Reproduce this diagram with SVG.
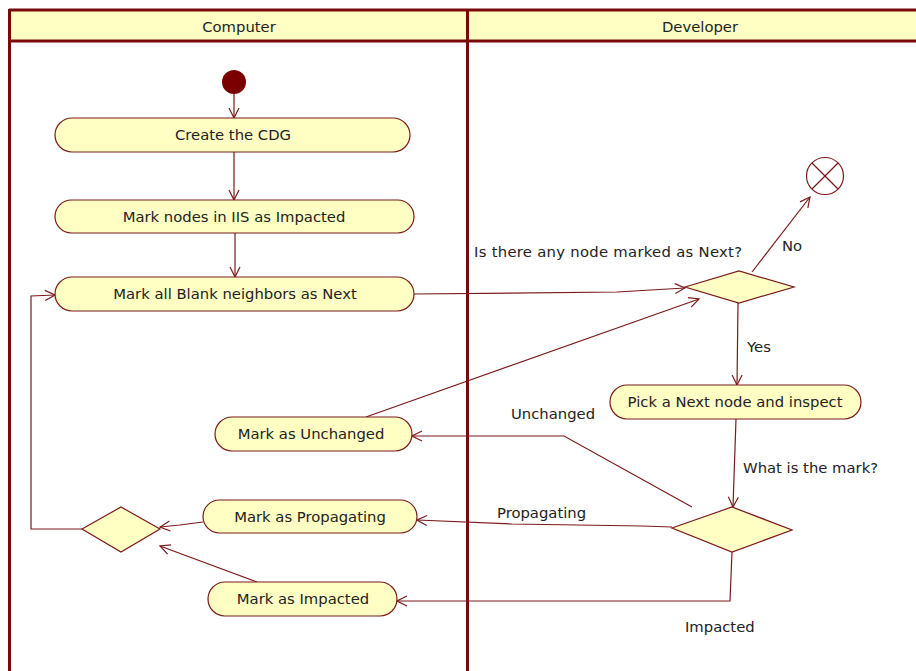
<svg xmlns="http://www.w3.org/2000/svg" width="916" height="671" viewBox="0 0 916 671">
  <style>
    .lane { fill: none; stroke: #7a0a0a; stroke-width: 3; }
    .hdr { fill: #ffffc4; stroke: none; }
    .act { fill: #ffffc4; stroke: #7a1a1a; stroke-width: 1.2; }
    .dec { fill: #ffffc4; stroke: #7a1a1a; stroke-width: 1.2; }
    .flow { fill: none; stroke: #7a1a1a; stroke-width: 1.2; }
    .t { font-family: "DejaVu Sans", Verdana, sans-serif; font-size: 14.8px; fill: #222; }
    .c { text-anchor: middle; }
  </style>
  <defs>
    <marker id="open" viewBox="0 0 12 12" refX="11" refY="6" markerWidth="12" markerHeight="12" markerUnits="userSpaceOnUse" orient="auto">
      <path d="M1,1 L11,6 L1,11" fill="none" stroke="#7a1a1a" stroke-width="1.2"/>
    </marker>
  </defs>

  <rect width="916" height="671" fill="#ffffff"/>

  <!-- swimlanes -->
  <g id="lanes">
    <rect class="hdr" x="10" y="10" width="906" height="31"/>
    <line class="lane" x1="9" y1="10" x2="916" y2="10"/>
    <line class="lane" x1="9" y1="41" x2="916" y2="41"/>
    <line class="lane" x1="9.5" y1="9" x2="9.5" y2="671"/>
    <line class="lane" x1="467.5" y1="9" x2="467.5" y2="671"/>
    <text class="t c" x="239" y="32">Computer</text>
    <text class="t c" x="700" y="32">Developer</text>
  </g>

  <!-- connectors -->
  <g id="connectors">
    <line class="flow" x1="234" y1="94" x2="234" y2="118" marker-end="url(#open)"/>
    <line class="flow" x1="234" y1="152" x2="234" y2="200" marker-end="url(#open)"/>
    <line class="flow" x1="235" y1="233" x2="235" y2="277" marker-end="url(#open)"/>
    <polyline class="flow" points="414,294 617,292 685,288" marker-end="url(#open)"/>
    <line class="flow" x1="752" y1="272" x2="810" y2="197" marker-end="url(#open)"/>
    <line class="flow" x1="738" y1="303" x2="737" y2="385" marker-end="url(#open)"/>
    <line class="flow" x1="736" y1="419" x2="733" y2="507" marker-end="url(#open)"/>
    <polyline class="flow" points="692,507 564,436 412,436" marker-end="url(#open)"/>
    <polyline class="flow" points="672,527 642,526 512,524 417,520" marker-end="url(#open)"/>
    <polyline class="flow" points="732,552 730,601 397,601" marker-end="url(#open)"/>
    <line class="flow" x1="366" y1="417" x2="699" y2="299" marker-end="url(#open)"/>
    <polyline class="flow" points="203,522 180,525 160,527" marker-end="url(#open)"/>
    <line class="flow" x1="257" y1="582" x2="160" y2="546" marker-end="url(#open)"/>
    <polyline class="flow" points="82,529 31,529 31,296 55,295" marker-end="url(#open)"/>
    <text class="t" x="474" y="257" textLength="268">Is there any node marked as Next?</text>
    <text class="t" x="782" y="251">No</text>
    <text class="t" x="747" y="352">Yes</text>
    <text class="t" x="743" y="473">What is the mark?</text>
    <text class="t" x="511" y="419">Unchanged</text>
    <text class="t" x="497" y="518">Propagating</text>
    <text class="t" x="685" y="632">Impacted</text>
  </g>

  <!-- nodes -->
  <g id="start">
    <circle cx="234" cy="82" r="12" fill="#7a0000"/>
  </g>
  <g id="create-cdg">
    <rect class="act" x="55" y="118" width="355" height="34" rx="17"/>
    <text class="t c" x="233" y="140">Create the CDG</text>
  </g>
  <g id="mark-iis">
    <rect class="act" x="55" y="200" width="359" height="33" rx="16.5"/>
    <text class="t c" x="234" y="222">Mark nodes in IIS as Impacted</text>
  </g>
  <g id="mark-next">
    <rect class="act" x="55" y="277" width="359" height="34" rx="17"/>
    <text class="t c" x="235" y="299">Mark all Blank neighbors as Next</text>
  </g>
  <g id="any-next">
    <polygon class="dec" points="685,287 739,271 794,287 739,303"/>
  </g>
  <g id="end">
    <circle cx="825" cy="176" r="18.5" fill="#ffffff" stroke="#7a1a1a" stroke-width="1.2"/>
    <line class="flow" x1="812" y1="163" x2="838" y2="189"/>
    <line class="flow" x1="838" y1="163" x2="812" y2="189"/>
  </g>
  <g id="pick-next">
    <rect class="act" x="610" y="385" width="251" height="34" rx="17"/>
    <text class="t c" x="735" y="407">Pick a Next node and inspect</text>
  </g>
  <g id="what-mark">
    <polygon class="dec" points="672,528 732,507 792,530 732,552"/>
  </g>
  <g id="mark-unchanged">
    <rect class="act" x="215" y="417" width="197" height="34" rx="17"/>
    <text class="t c" x="311" y="439">Mark as Unchanged</text>
  </g>
  <g id="mark-propagating">
    <rect class="act" x="203" y="500" width="214" height="33" rx="16.5"/>
    <text class="t c" x="310" y="522">Mark as Propagating</text>
  </g>
  <g id="mark-impacted">
    <rect class="act" x="208" y="582" width="189" height="34" rx="17"/>
    <text class="t c" x="303" y="604">Mark as Impacted</text>
  </g>
  <g id="merge">
    <polygon class="dec" points="82,529 121,507 160,529 121,552"/>
  </g>
</svg>
